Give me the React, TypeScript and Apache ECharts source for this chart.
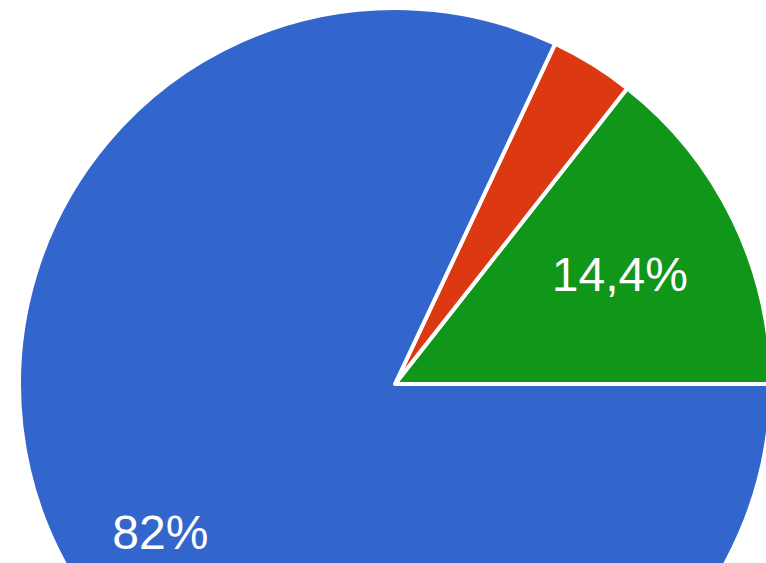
import React, { useEffect, useRef } from "react";
import * as echarts from "echarts";

const categories = ["Verde", "Rojo", "Azul"];
const values = [14.4, 3.6, 82];
const colors = ["#109618", "#dc3912", "#3366cc"];
const labelTexts = ["14,4%", "", "82%"];

export default function App() {
  const ref = useRef<HTMLDivElement>(null);
  useEffect(() => {
    if (!ref.current) return;
    const chart = echarts.init(ref.current, undefined, { renderer: "svg" });
    const baseData = categories.map((name, i) => ({
      name,
      value: values[i],
      itemStyle: { color: colors[i] },
    }));
    const labelSeries = (idx: number, outer: number) => ({
      type: "pie",
      center: [395, 384],
      radius: [0, outer],
      startAngle: 0,
      clockwise: false,
      silent: true,
      z: 5,
      itemStyle: { color: "transparent", borderWidth: 0 },
      labelLine: { show: false },
      data: categories.map((name, i) => ({
        name,
        value: values[i],
        itemStyle: { color: "transparent" },
        label: {
          show: i === idx,
          position: "inside",
          formatter: labelTexts[i],
          color: "#ffffff",
          fontSize: 48,
          fontFamily: "Liberation Sans, Arial, sans-serif",
        },
      })),
    });
    chart.setOption({
      animation: false,
      series: [
        {
          type: "pie",
          center: [395, 384],
          radius: [0, 376],
          startAngle: 0,
          clockwise: false,
          silent: true,
          itemStyle: { borderColor: "#ffffff", borderWidth: 4 },
          label: { show: false },
          labelLine: { show: false },
          data: baseData,
        },
        labelSeries(0, 494),
        labelSeries(2, 550),
      ],
    });
    return () => chart.dispose();
  }, []);
  return (
    <div
      ref={ref}
      style={{ position: "fixed", left: 0, top: 0, width: 766, height: 563, background: "#ffffff" }}
    />
  );
}
